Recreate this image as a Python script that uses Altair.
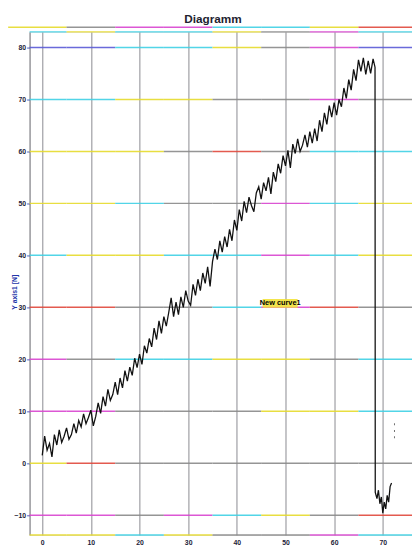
import altair as alt
import pandas as pd

# ---- curve "New curve1" ----
curve_x = [0.0, 0.5, 1.0, 1.5, 2.0, 2.5, 3.0, 3.5, 4.0, 4.5, 5.0, 5.5, 6.0, 6.5, 7.0, 7.5,
           8.0, 8.5, 9.0, 9.5, 10.0, 10.5, 11.0, 11.5, 12.0, 12.5, 13.0, 13.5, 14.0, 14.5,
           15.0, 15.5, 16.0, 16.5, 17.0, 17.5, 18.0, 18.5, 19.0, 19.5, 20.0, 20.5, 21.0,
           21.5, 22.0, 22.5, 23.0, 23.5, 24.0, 24.5, 25.0, 25.5, 26.0, 26.5, 27.0, 27.5,
           28.0, 28.5, 29.0, 29.5, 30.0, 30.5, 31.0, 31.5, 32.0, 32.5, 33.0, 33.5, 34.0,
           34.5, 35.0, 35.5, 36.0, 36.5, 37.0, 37.5, 38.0, 38.5, 39.0, 39.5, 40.0, 40.5,
           41.0, 41.5, 42.0, 42.5, 43.0, 43.5, 44.0, 44.5, 45.0, 45.5, 46.0, 46.5, 47.0,
           47.5, 48.0, 48.5, 49.0, 49.5, 50.0, 50.5, 51.0, 51.5, 52.0, 52.5, 53.0, 53.5,
           54.0, 54.5, 55.0, 55.5, 56.0, 56.5, 57.0, 57.5, 58.0, 58.5, 59.0, 59.5, 60.0,
           60.5, 61.0, 61.5, 62.0, 62.5, 63.0, 63.5, 64.0, 64.5, 65.0, 65.5, 66.0, 66.5,
           67.0, 67.5, 68.0, 68.4, 68.45, 68.8, 69.1, 69.4, 69.7, 70.0, 70.3, 70.6, 70.9,
           71.2, 71.5, 71.8]
curve_y = [1.5, 5.2, 2.5, 3.8, 1.2, 5.5, 3.5, 6.4, 4.0, 5.2, 6.8, 4.6, 5.5, 7.6, 5.8, 8.2,
           7.0, 9.5, 7.6, 8.8, 10.2, 7.2, 9.0, 11.6, 9.6, 12.8, 11.0, 14.2, 12.1, 13.2,
           15.6, 13.2, 16.4, 14.5, 17.8, 15.8, 18.5, 16.9, 20.2, 18.4, 21.0, 19.0, 22.6,
           21.2, 24.0, 22.4, 26.0, 23.8, 27.4, 25.0, 28.2, 26.4, 29.0, 31.8, 28.2, 31.0,
           28.6, 32.0, 30.0, 33.2, 31.2, 30.4, 34.4, 32.3, 35.4, 33.2, 36.6, 34.6, 37.8,
           34.0, 38.8, 41.2, 39.2, 42.8, 40.6, 43.6, 41.6, 45.0, 42.8, 46.8, 44.8, 48.8,
           46.6, 50.4, 48.2, 51.2, 49.6, 48.4, 52.0, 53.2, 50.8, 54.0, 52.4, 55.0, 51.8,
           56.0, 54.2, 57.6, 55.8, 59.2, 57.2, 60.2, 56.8, 61.4, 59.6, 62.4, 60.0, 61.2,
           63.2, 60.8, 63.8, 61.6, 64.4, 62.0, 66.0, 63.8, 67.4, 65.2, 68.8, 66.6, 69.4,
           67.0, 70.0, 68.6, 72.2, 70.2, 73.8, 71.8, 75.8, 73.6, 77.6, 75.4, 78.0, 74.8,
           77.4, 75.0, 77.8, 76.2, -5.6, -6.8, -5.2, -7.8, -6.5, -9.6, -7.5, -8.8,
           -6.2, -7.5, -4.5, -3.8]

# stray marks right of the curve
stray_x = [72.4, 72.4, 72.4]
stray_y = [7.5, 6.2, 5.0]

# axis ticks
y_ticks = [-10, 0, 10, 20, 30, 40, 50, 60, 70, 80]
x_ticks = [0, 10, 20, 30, 40, 50, 60, 70]

# horizontal lines of the scan (value level) and their colour runs from left to right
C, Y, M, B, R, G = "#3fd0e4", "#e6da2c", "#d845cf", "#5a5ad6", "#e0483c", "#8a8a8a"
line_levels = [83.9, 83, 80, 70, 60, 50, 40, 30, 20, 10, 0, -10, -13.8]
line_colors = [
    [Y, G, M, M, C, C, Y, R],
    [C, Y, C, C, Y, G, M, C],
    [B, B, C, C, Y, G, M, B],
    [C, C, Y, Y, G, G, M, G],
    [Y, Y, Y, G, R, G, C, C],
    [Y, Y, C, G, G, M, C, Y],
    [C, Y, Y, C, C, M, C, Y],
    [R, R, G, G, C, M, R, G],
    [M, G, C, C, Y, Y, G, C],
    [M, M, G, G, G, Y, Y, C],
    [Y, R, G, G, G, G, G, G],
    [M, M, G, M, C, Y, G, R],
    [Y, Y, C, Y, G, G, M, C],
]
run_edges = [-2.6, 5, 15, 25, 35, 45, 55, 65, 76]

XMIN, XMAX = -2.6, 76.0
YMIN, YMAX = -13.8, 83.0

rows = []
for lvl, cols in zip(line_levels, line_colors):
    for i, c in enumerate(cols):
        x0 = run_edges[i]
        if lvl == line_levels[0] and i == 0:
            x0 = -7.0
        rows.append({"level": lvl, "x0": x0, "x1": run_edges[i + 1], "color": c})
grid_df = pd.DataFrame(rows)

curve_df = pd.DataFrame({"x": curve_x, "y": curve_y})
stray_df = pd.DataFrame({"x": stray_x, "y": stray_y})

xs = alt.Scale(domain=[XMIN, XMAX], nice=False, zero=False)
ys = alt.Scale(domain=[YMIN, YMAX], nice=False, zero=False)

FONT = "Liberation Sans"

grid = alt.Chart(grid_df).mark_rule(strokeWidth=1.5, opacity=0.9).encode(
    x=alt.X("x0:Q", scale=xs,
            axis=alt.Axis(values=x_ticks, title=None, grid=True, gridColor="#8a8a90",
                          gridWidth=1, domain=False, ticks=False, labelPadding=4,
                          labelFont=FONT, labelFontSize=7, labelFontWeight="bold",
                          labelColor="#222238")),
    x2="x1:Q",
    y=alt.Y("level:Q", scale=ys,
            axis=alt.Axis(values=y_ticks, title="Y axis1 [N]", grid=False,
                          domain=True, domainColor="#707078", domainWidth=1,
                          ticks=True, tickSize=3, tickColor="#4a5ac0",
                          labelPadding=1, labelFont=FONT, labelFontSize=7,
                          labelFontWeight="bold", labelColor="#222238",
                          titleFont=FONT, titleFontSize=7, titleFontWeight="bold",
                          titleColor="#2234a8", titleX=-12, titleY=265)),
    color=alt.Color("color:N", scale=None),
)

curve = alt.Chart(curve_df).mark_line(color="#111111", strokeWidth=1.3).encode(
    x=alt.X("x:Q", scale=xs), y=alt.Y("y:Q", scale=ys)
)

stray = alt.Chart(stray_df).mark_tick(color="#333333", orient="vertical",
                                      size=2, thickness=1).encode(
    x=alt.X("x:Q", scale=xs), y=alt.Y("y:Q", scale=ys)
)

label_df = pd.DataFrame({"x": [45.3], "x2": [52.5], "y": [29.9], "y2": [31.6],
                         "tx": [48.9], "ty": [30.1], "text": ["New curve1"]})
label_box = alt.Chart(label_df).mark_rect(color="#f2e23a", opacity=0.9).encode(
    x=alt.X("x:Q", scale=xs), x2="x2:Q", y=alt.Y("y:Q", scale=ys), y2="y2:Q"
)
label_txt = alt.Chart(label_df).mark_text(font=FONT, fontSize=7.5, fontWeight="bold",
                                          color="#000000", baseline="bottom").encode(
    x=alt.X("tx:Q", scale=xs), y=alt.Y("ty:Q", scale=ys), text="text:N"
)

# chart title "Diagramm", centred over the plot just above the scan border line
title_df = pd.DataFrame({"tx": [35.1], "ty": [84.7], "text": ["Diagramm"]})
title_txt = alt.Chart(title_df).mark_text(font=FONT, fontSize=12, fontWeight="bold",
                                          color="#222230", baseline="alphabetic").encode(
    x=alt.X("tx:Q", scale=xs), y=alt.Y("ty:Q", scale=ys), text="text:N"
)

chart = alt.layer(grid, curve, stray, label_box, label_txt, title_txt).properties(
    width=390, height=513,
    autosize=alt.AutoSizeParams(type="none"),
    padding={"left": 22, "top": 19, "right": 0, "bottom": 9},
).configure_view(stroke=None).configure(background="white")

chart.save("out.html", embed_options={"renderer": "svg", "actions": False})
